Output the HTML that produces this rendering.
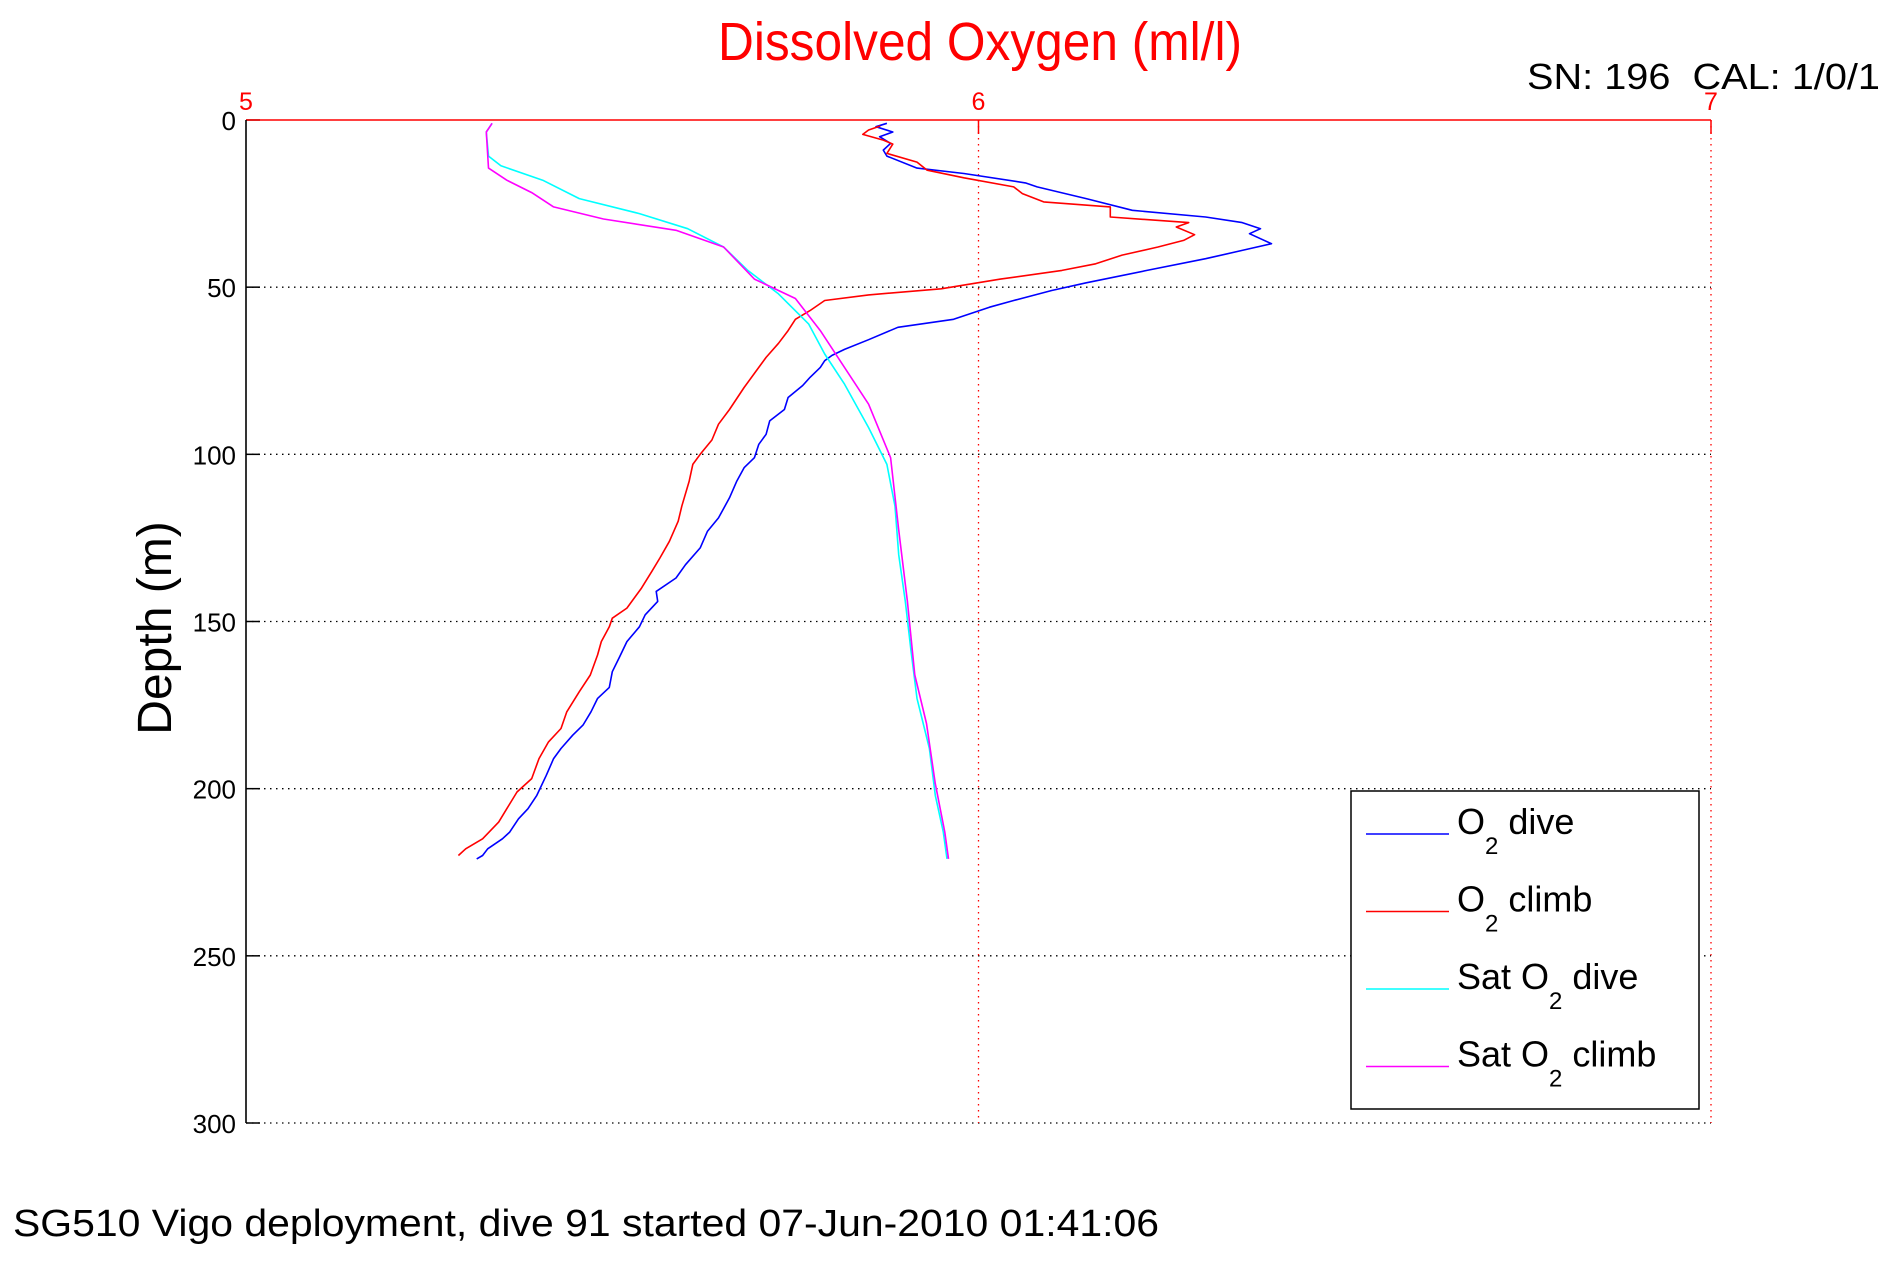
<!DOCTYPE html>
<html><head><meta charset="utf-8"><style>
html,body{margin:0;padding:0;background:#fff;}
svg{display:block;font-family:"Liberation Sans",sans-serif;}
</style></head><body>
<svg id="chart" width="1891" height="1262" viewBox="0 0 1891 1262" xmlns="http://www.w3.org/2000/svg">
<rect x="0" y="0" width="1891" height="1262" fill="#fff"/>
<text x="718" y="60" font-size="54" fill="#ff0000" textLength="524" lengthAdjust="spacingAndGlyphs">Dissolved Oxygen (ml/l)</text>
<text x="1527" y="89" font-size="36" fill="#000" textLength="353" lengthAdjust="spacingAndGlyphs" xml:space="preserve">SN: 196  CAL: 1/0/1</text>
<text x="13" y="1236" font-size="38" fill="#000" textLength="1146" lengthAdjust="spacingAndGlyphs">SG510 Vigo deployment, dive 91 started 07-Jun-2010 01:41:06</text>
<text transform="translate(171,628) rotate(-90)" text-anchor="middle" font-size="48" fill="#000">Depth (m)</text>
<g id="grid"></g>
<g id="axes"></g>
<g id="series"></g>
<g id="legend">
  <rect x="1351" y="791" width="348" height="318" fill="#fff" stroke="#000" stroke-width="1.5"/>
</g>
</svg>
<script>
const xTicks = [5, 6, 7];
const yTicks = [0, 50, 100, 150, 200, 250, 300];
const seriesNames = ["O2 dive", "O2 climb", "Sat O2 dive", "Sat O2 climb"];
const diveDepth = [1,2,3.6,5,7,9,10.8,14.4,16,18.8,20,23.5,27,29,30.7,32.5,34,37,39,41.5,45,48.7,51,54,56,59.6,62,65.7,68.6,70.4,72,74,77,79.4,83,86.6,90,94,97,101,104,108,113,119,123,128,133,137,141,144,148,151.6,156,160.6,165,169.7,173,177,181,184,188,191,196,202,206,209,213,215,218,220,221];
const diveO2 = [5.875,5.86,5.883,5.865,5.88,5.87,5.875,5.916,5.98,6.064,6.08,6.147,6.21,6.31,6.36,6.385,6.37,6.40,6.36,6.31,6.23,6.147,6.1,6.048,6.015,5.966,5.89,5.85,5.817,5.80,5.79,5.784,5.77,5.76,5.74,5.735,5.715,5.71,5.70,5.694,5.68,5.67,5.66,5.645,5.63,5.62,5.60,5.587,5.56,5.562,5.545,5.537,5.52,5.51,5.50,5.496,5.48,5.471,5.46,5.446,5.43,5.42,5.41,5.397,5.385,5.372,5.36,5.35,5.33,5.323,5.315];
const climbDepth = [1.8,3,4.3,6,7.2,10,12.6,15,17.3,20,22,24.5,26,29,30.7,32,34.3,36,38,40.4,43,45,47.6,50.5,52.3,54,57,59.6,63,66.8,71,75.8,80,86.6,91,95.7,100,103,108,115.5,120,126,131,135,140,146,149,151.6,156,160,166,171,177,182,186,191,197,201,206,210,215,218,220];
const climbO2 = [5.866,5.85,5.842,5.87,5.883,5.875,5.916,5.93,5.98,6.048,6.06,6.089,6.18,6.18,6.287,6.27,6.295,6.28,6.245,6.196,6.16,6.114,6.03,5.949,5.85,5.79,5.77,5.75,5.74,5.727,5.71,5.694,5.68,5.66,5.645,5.636,5.62,5.61,5.605,5.595,5.59,5.578,5.565,5.554,5.54,5.52,5.5,5.496,5.485,5.48,5.47,5.455,5.438,5.43,5.413,5.40,5.39,5.37,5.356,5.345,5.323,5.30,5.29];
const satDiveDepth = [1,3.6,10.8,13.7,18,23.5,28,32.5,38,45,52,61,70,79,92,103,115.5,130,144,159,173,188,202,213,221];
const satDiveO2 = [5.336,5.328,5.331,5.348,5.405,5.455,5.537,5.603,5.652,5.685,5.727,5.768,5.79,5.817,5.85,5.875,5.886,5.891,5.9,5.908,5.916,5.933,5.941,5.952,5.957];
const satClimbDepth = [1,3.6,14.4,18,21.7,26,29.6,33,38,47.6,53.4,63,74,85,101,122.6,144,166,180.5,198.5,213,221];
const satClimbO2 = [5.336,5.328,5.331,5.356,5.39,5.42,5.488,5.587,5.652,5.694,5.75,5.784,5.817,5.85,5.88,5.891,5.903,5.913,5.929,5.941,5.954,5.959];

const NS = "http://www.w3.org/2000/svg";
const X0 = 246, X1 = 1711, Y0 = 120, Y1 = 1123;
function xScale(v){ return X0 + (v - 5) / 2 * (X1 - X0); }
function yScale(d){ return Y0 + d / 300 * (Y1 - Y0); }
function mk(tag, attrs, parent){
  const el = document.createElementNS(NS, tag);
  for (const k in attrs) el.setAttribute(k, attrs[k]);
  parent.appendChild(el);
  return el;
}
const grid = document.getElementById('grid');
const axes = document.getElementById('axes');
const series = document.getElementById('series');
const legend = document.getElementById('legend');

yTicks.forEach(t => {
  const y = yScale(t);
  if (t > 0) {
    const gl = mk('line', {x1:X0, x2:X1, y1:y, y2:y, stroke:'#000', 'stroke-width':1.3, 'stroke-dasharray':'1.5 4.5'}, grid);
    
    
  }
  const tk = mk('line', {x1:X0, x2:X0+14, y1:y, y2:y, stroke:'#000', 'stroke-width':1.5}, axes);
  
  
  const lb = mk('text', {x:236, y:y+10, 'text-anchor':'end', 'font-size':26, fill:'#000'}, axes);
  lb.textContent = t;
  
  
});
xTicks.forEach(t => {
  const x = xScale(t);
  if (t > 5) {
    const gl = mk('line', {x1:x, x2:x, y1:Y0, y2:Y1, stroke:'#ff0000', 'stroke-width':1.3, 'stroke-dasharray':'1.5 4.5'}, grid);
    
    
    const tk = mk('line', {x1:x, x2:x, y1:Y0, y2:Y0+14, stroke:'#ff0000', 'stroke-width':1.5}, axes);
    
    
  }
  const lb = mk('text', {x:x, y:110, 'text-anchor':'middle', 'font-size':25, fill:'#ff0000'}, axes);
  lb.textContent = t;
  
  
});
const topAxis = mk('line', {x1:X0, x2:X1, y1:Y0, y2:Y0, stroke:'#ff0000', 'stroke-width':1.6}, axes);


const leftAxis = mk('line', {x1:X0, x2:X0, y1:Y0, y2:Y1, stroke:'#000', 'stroke-width':1.6}, axes);



const colors = ['#0000ff', '#ff0000', '#00ffff', '#ff00ff'];
const allX = [diveO2, climbO2, satDiveO2, satClimbO2];
const allY = [diveDepth, climbDepth, satDiveDepth, satClimbDepth];
const slugs = ['o2-dive-line', 'o2-climb-line', 'sat-o2-dive-line', 'sat-o2-climb-line'];
allX.forEach((xs, i) => {
  const ys = allY[i];
  const pts = xs.map((v, j) => xScale(v).toFixed(1) + ',' + yScale(ys[j]).toFixed(1)).join(' ');
  const pl = mk('polyline', {points:pts, fill:'none', stroke:colors[i], 'stroke-width':1.6, 'stroke-linejoin':'round'}, series);
  
  
});

const labels = [['O','2',' dive'], ['O','2',' climb'], ['Sat O','2',' dive'], ['Sat O','2',' climb']];
labels.forEach((lab, i) => {
  const y = 834 + i * 77.5;
  const ln = mk('line', {x1:1366, x2:1449, y1:y, y2:y, stroke:colors[i], 'stroke-width':1.6}, legend);
  
  
  const tx = mk('text', {x:1457, y:y, 'font-size':36, fill:'#000'}, legend);
  
  
  tx.setAttribute('xml:space', 'preserve');
  const a = document.createElementNS(NS, 'tspan'); a.textContent = lab[0]; tx.appendChild(a);
  const b = document.createElementNS(NS, 'tspan'); b.textContent = lab[1];
  b.setAttribute('dy', '20'); b.setAttribute('font-size', '24'); tx.appendChild(b);
  const c = document.createElementNS(NS, 'tspan'); c.textContent = lab[2];
  c.setAttribute('dy', '-20'); tx.appendChild(c);
});
</script>
</body></html>
